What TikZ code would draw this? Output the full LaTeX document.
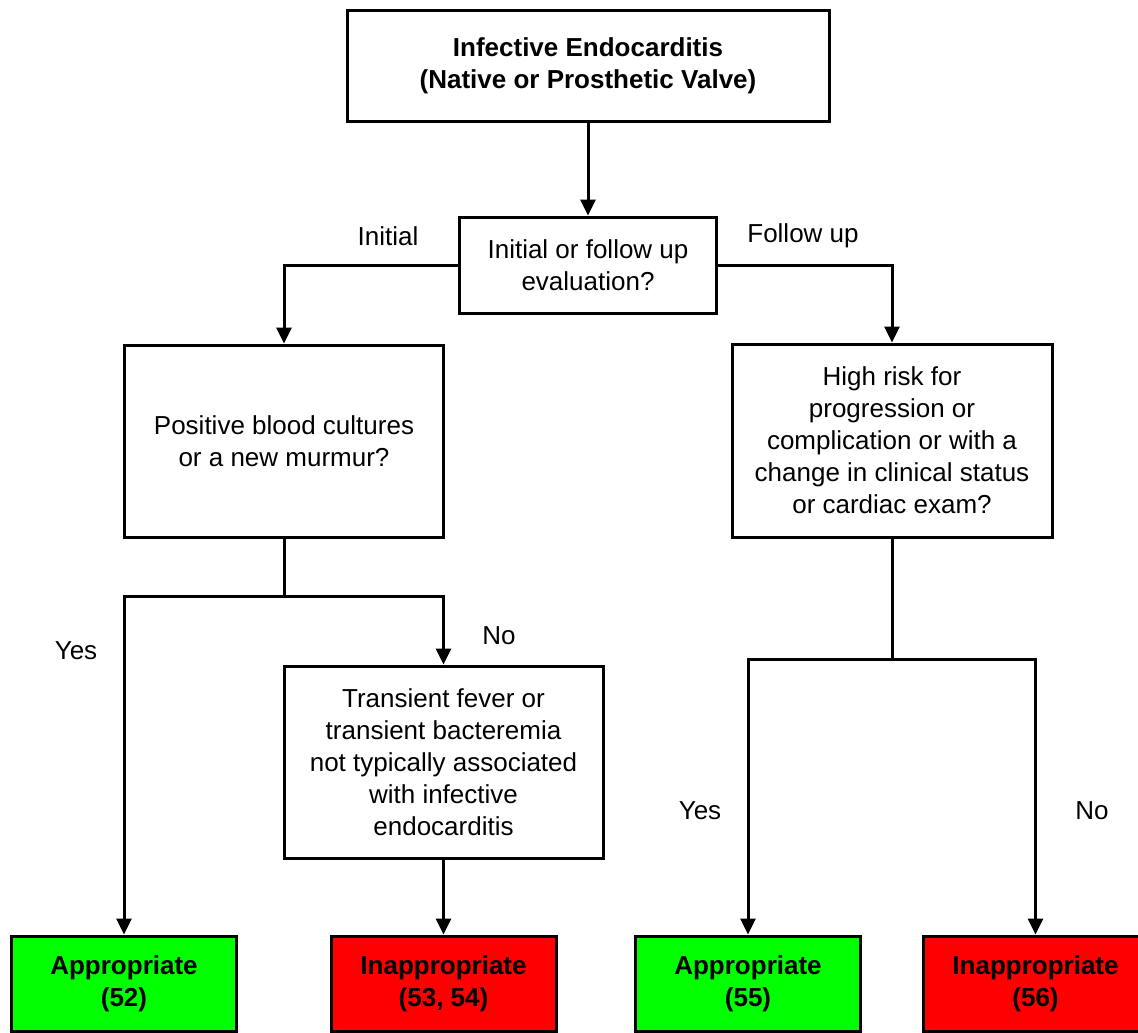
\documentclass[tikz,border=0pt]{standalone}
\usepackage{fontspec}
\setmainfont{Liberation Sans}
\usetikzlibrary{arrows.meta}
\definecolor{okgreen}{RGB}{0,255,0}
\definecolor{badred}{RGB}{255,0,0}
\begin{document}
\begin{tikzpicture}[x=1pt,y=-1pt,
  every node/.style={font=\fontsize{26}{32}\selectfont, align=center, inner sep=0pt},
  box/.style={draw, line width=3pt, rectangle},
  result/.style={box, minimum width=225pt, minimum height=95pt, font=\fontsize{26}{32}\selectfont\bfseries},
  link/.style={line width=3pt},
  arr/.style={link, -{Triangle[width=15pt,length=16pt]}},
  lbl/.style={font=\fontsize{26}{32}\selectfont}]
\useasboundingbox (0,0) rectangle (1138,1033);
\clip (0,0) rectangle (1138,1033);
\fill[white] (0,0) rectangle (1138,1033);

% question boxes
\node[box, minimum width=482pt, minimum height=110pt, font=\fontsize{26}{32}\selectfont\bfseries]
  (top) at (588,66) {Infective Endocarditis\\(Native or Prosthetic Valve)};
\node[box, minimum width=257pt, minimum height=96pt] (eval) at (588,265)
  {Initial or follow up\\evaluation?};
\node[box, minimum width=319pt, minimum height=192pt] (blood) at (284,441)
  {Positive blood cultures\\or a new murmur?};
\node[box, minimum width=320pt, minimum height=193pt] (risk) at (892,440.5)
  {High risk for\\progression or\\complication or with a\\change in clinical status\\or cardiac exam?};
\node[box, minimum width=319pt, minimum height=192pt] (trans) at (443.5,762)
  {Transient fever or\\transient bacteremia\\not typically associated\\with infective\\endocarditis};

% outcome boxes
\node[result, fill=okgreen] (r52) at (124,983.5) {Appropriate\\(52)};
\node[result, fill=badred] (r53) at (443.5,983.5) {Inappropriate\\(53, 54)};
\node[result, fill=okgreen] (r55) at (748,983.5) {Appropriate\\(55)};
\node[result, fill=badred] (r56) at (1035.5,983.5) {Inappropriate\\(56)};

% junction points
\coordinate (jl) at (284,596);
\coordinate (jr) at (892,659);

% connectors
\draw[arr] (top.south) -- (eval.north);
\draw[arr] (eval.west) -| (blood.north);
\draw[arr] (eval.east) -| (risk.north);
\draw[link] (blood.south) -- (jl);
\draw[arr] (jl) -| (r52.north);
\draw[arr] (jl) -| (trans.north);
\draw[arr] (trans.south) -- (r53.north);
\draw[link] (risk.south) -- (jr);
\draw[arr] (jr) -| (r55.north);
\draw[arr] (jr) -| (r56.north);

% branch labels
\node[lbl] (lini) at (388,236) {Initial};
\node[lbl] (lfol) at (803,236) {Follow up};
\node[lbl] (ly1) at (76,651) {Yes};
\node[lbl] (ln1) at (499,636) {No};
\node[lbl] (ly2) at (700,811) {Yes};
\node[lbl] (ln2) at (1092,811) {No};
\end{tikzpicture}
\end{document}
